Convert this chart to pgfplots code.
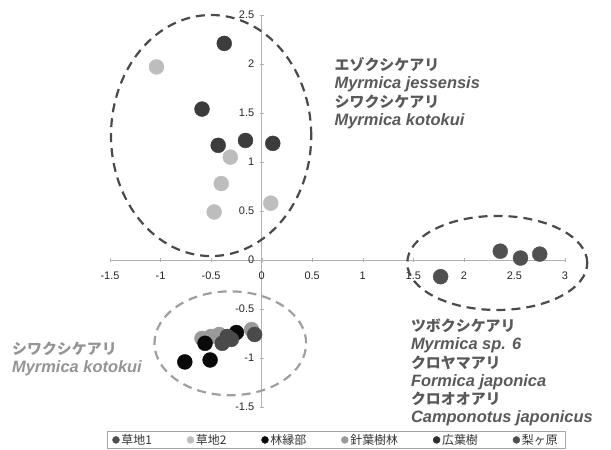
\documentclass[border=0pt]{standalone}
\usepackage{pgfplots}
\pgfplotsset{compat=1.18}
\usepackage{fontspec}
\setmainfont{Liberation Sans}
\newfontfamily\jp{Noto Sans CJK JP}
\newcommand\jpb{\jp\bfseries}
\definecolor{cA}{HTML}{3C3C3C}
\definecolor{cB}{HTML}{BDBDBD}
\definecolor{cC}{HTML}{0A0A0A}
\definecolor{cD}{HTML}{9A9A9A}
\definecolor{cE}{HTML}{4A4A4A}
\definecolor{cF}{HTML}{505050}
\begin{document}
\begin{tikzpicture}
\useasboundingbox (-110bp,-43bp) rectangle (501bp,407bp);
\begin{axis}[
  scale only axis, width=455bp, height=392bp,
  xmin=-1.5, xmax=3, ymin=-1.5, ymax=2.5,
  axis lines=middle, axis line style={-, draw=gray!60},
  xtick={-1.5,-1,...,3}, ytick={-1.5,-1,...,2.5},
  hide obscured x ticks=false, hide obscured y ticks=false,
  tick style={gray!60}, major tick length=4bp,
  ticklabel style={font=\fontsize{11}{13}\selectfont, text=black!85},
  /pgf/number format/assume math mode=true,
  xticklabel style={yshift=-6bp},
  yticklabel style={xshift=-2bp},
  clip=false,
  legend columns=6,
  legend style={at={(0.497,-0.084)}, anchor=center, draw=gray!70,
    font=\jp\fontsize{12}{14}\selectfont, text=black!80,
    /tikz/every even column/.append style={column sep=33bp},
    inner ysep=1bp, inner xsep=5bp},
  legend image code/.code={\draw[#1, mark size=3.5pt] plot coordinates {(0.12cm,0cm)};},
]
\addlegendimage{only marks, mark=*, color=cF}
\addlegendentry{草地1}
\addlegendimage{only marks, mark=*, color=cB}
\addlegendentry{草地2}
\addlegendimage{only marks, mark=*, color=cC}
\addlegendentry{林縁部}
\addlegendimage{only marks, mark=*, color=cD}
\addlegendentry{針葉樹林}
\addlegendimage{only marks, mark=*, color=cC!85!white}
\addlegendentry{広葉樹}
\addlegendimage{only marks, mark=*, color=cF}
\addlegendentry{梨ヶ原}
\addplot[forget plot, only marks, mark=*, mark size=7.5pt, color=cA] coordinates {(-0.37,2.21) (-0.59,1.54) (-0.43,1.17) (-0.16,1.22) (0.11,1.19)};
\addplot[forget plot, only marks, mark=*, mark size=7.5pt, color=cB] coordinates {(-1.04,1.97) (-0.31,1.05) (-0.40,0.78) (-0.47,0.49) (0.09,0.58)};
\addplot[forget plot, only marks, mark=*, mark size=7.5pt, color=cD] coordinates {(-0.59,-0.80) (-0.50,-0.78) (-0.42,-0.76) (-0.10,-0.71)};
\addplot[forget plot, only marks, mark=*, mark size=7.5pt, color=cC] coordinates {(-0.56,-0.85) (-0.25,-0.74) (-0.76,-1.04) (-0.51,-1.02)};
\addplot[forget plot, only marks, mark=*, mark size=7.5pt, color=cE] coordinates {(-0.39,-0.85) (-0.30,-0.81) (-0.34,-0.78) (-0.07,-0.76)};
\addplot[forget plot, only marks, mark=*, mark size=7.5pt, color=cF] coordinates {(2.36,0.09) (2.56,0.02) (2.75,0.06) (1.77,-0.17)};
% ellipses
\draw[cE, line width=2.2bp, dash pattern=on 9bp off 6bp] (axis cs:-0.5,1.27) ellipse [x radius=0.99, y radius=1.23];
\draw[gray!75, line width=2.2bp, dash pattern=on 9bp off 6bp] (axis cs:-0.31,-0.85) ellipse [x radius=0.75, y radius=0.53];
\draw[cE, line width=2.2bp, dash pattern=on 9bp off 6bp] (axis cs:2.33,-0.03) ellipse [x radius=0.89, y radius=0.48];
% labels
\node[anchor=north west, align=left, inner sep=0pt, text=black!65, font=\fontsize{16.5}{18.5}\selectfont]
  at (axis cs:0.72,2.07)
  {{\jpb\fontsize{15}{18.5}\selectfont エゾクシケアリ}\\ \textbf{\textit{Myrmica jessensis}}\\ {\jpb\fontsize{15}{18.5}\selectfont シワクシケアリ}\\ \textbf{\textit{Myrmica kotokui}}};
\node[anchor=north west, align=left, inner sep=0pt, text=black!42, font=\fontsize{16.5}{18.5}\selectfont]
  at (axis cs:-2.47,-0.83)
  {{\jpb\fontsize{15}{18.5}\selectfont シワクシケアリ}\\ \textbf{\textit{Myrmica kotokui}}};
\node[anchor=north west, align=left, inner sep=0pt, text=black!65, font=\fontsize{16.5}{18.3}\selectfont]
  at (axis cs:1.475,-0.60)
  {{\jpb\fontsize{15}{18.3}\selectfont ツボクシケアリ}\\ \textbf{\textit{Myrmica sp. 6}}\\ {\jpb\fontsize{15}{18.3}\selectfont クロヤマアリ}\\ \textbf{\textit{Formica japonica}}\\ {\jpb\fontsize{15}{18.3}\selectfont クロオオアリ}\\ \textbf{\textit{Camponotus japonicus}}};
\end{axis}
\end{tikzpicture}
\end{document}
